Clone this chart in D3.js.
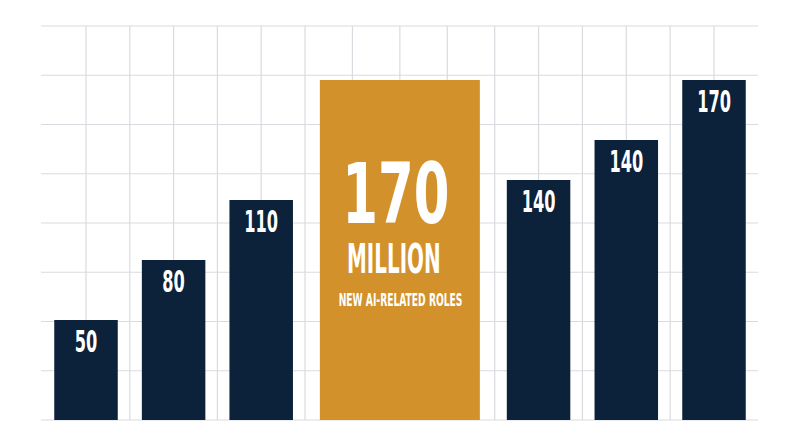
<!DOCTYPE html>
<html>
<head>
<meta charset="utf-8">
<script src="https://cdn.jsdelivr.net/npm/d3@7"></script>
<style>
  body { margin: 0; background: #fff; }
  svg { display: block; }
  .gridLine { stroke: #dadbe0; stroke-width: 1.2; }
  .label { font-family: "DejaVu Sans Condensed", "Liberation Sans Narrow", sans-serif; font-weight: bold; fill: #fff; }
</style>
</head>
<body>
<script>
// bar data
var categories = ["1", "2", "3", "4", "5", "6", "7"];
var values = [50, 80, 110, 170, 120, 140, 170];
var valueLabels = ["50", "80", "110", "", "140", "140", "170"];
var featuredIndex = 3;
var featuredLines = ["170", "MILLION", "NEW AI-RELATED ROLES"];

var width = 800,
    height = 447;

var svg = d3.select("body")
    .append("svg")
    .attr("width", width)
    .attr("height", height);

// every bar takes 2 grid columns, the featured one takes 4
var slots = categories.map(function(d, i){ return i === featuredIndex ? 4 : 2; });
var slotStart = [0].concat(Array.from(d3.cumsum(slots))).slice(0, slots.length);
var nCols = d3.sum(slots);

// grid columns, a little wider round the featured bar
var x = d3.scaleLinear()
    .domain([0, 1, 6, 10, 15, 16])
    .range([41, 86, 305, 494.7, 714, 758]);

var y = d3.scaleLinear()
    .domain([0, 170])
    .range([420, 80]);

var gridRows = d3.scaleLinear()
    .domain([0, 8])
    .range([420, 26]);

//background grid
svg.selectAll(".hLine")
    .data(d3.range(0, 9))
    .enter()
    .append("line")
    .attr("class", "gridLine hLine")
    .attr("x1", x(0))
    .attr("x2", x(nCols))
    .attr("y1", function(d){ return gridRows(d); })
    .attr("y2", function(d){ return gridRows(d); });

svg.selectAll(".vLine")
    .data(d3.range(1, nCols))
    .enter()
    .append("line")
    .attr("class", "gridLine vLine")
    .attr("x1", function(d){ return x(d); })
    .attr("x2", function(d){ return x(d); })
    .attr("y1", gridRows(8))
    .attr("y2", gridRows(0));

function center(i){ return x(slotStart[i] + slots[i] / 2); }
function barWidth(i){ return i === featuredIndex ? 160 : 63.5; }

var bars = values.map(function(v, i){
    return {value: v, label: valueLabels[i], i: i};
});

//bars
svg.selectAll(".bar")
    .data(bars)
    .enter()
    .append("rect")
    .attr("class", "bar")
    .attr("x", function(d){ return center(d.i) - barWidth(d.i) / 2; })
    .attr("width", function(d){ return barWidth(d.i); })
    .attr("y", function(d){ return y(d.value); })
    .attr("height", function(d){ return y(0) - y(d.value); })
    .attr("fill", function(d){ return d.i === featuredIndex ? "#d2912b" : "#0b223a"; });

//value labels on the navy bars
svg.selectAll(".valueLabel")
    .data(bars.filter(function(d){ return d.i !== featuredIndex; }))
    .enter()
    .append("text")
    .attr("class", "label valueLabel")
    .attr("text-anchor", "middle")
    .attr("font-size", 31)
    .attr("transform", function(d){
        return "translate(" + center(d.i) + "," + (y(d.value) + 32) + ") scale(0.58,1)";
    })
    .text(function(d){ return d.label; });

//featured bar text
var fTop = y(values[featuredIndex]),
    fx = center(featuredIndex);
var featuredStyle = [
    {size: 84, dy: 143.3, dx: -4, sx: 0.68},
    {size: 41, dy: 193.3, dx: -6, sx: 0.54},
    {size: 18.2, dy: 225.7, dx: 0.7, sx: 0.56}
];
svg.selectAll(".featured")
    .data(featuredLines)
    .enter()
    .append("text")
    .attr("class", "label featured")
    .attr("text-anchor", "middle")
    .attr("font-size", function(d, i){ return featuredStyle[i].size; })
    .attr("transform", function(d, i){
        var s = featuredStyle[i];
        return "translate(" + (fx + s.dx) + "," + (fTop + s.dy) + ") scale(" + s.sx + ",1)";
    })
    .text(function(d){ return d; });
</script>
</body>
</html>
